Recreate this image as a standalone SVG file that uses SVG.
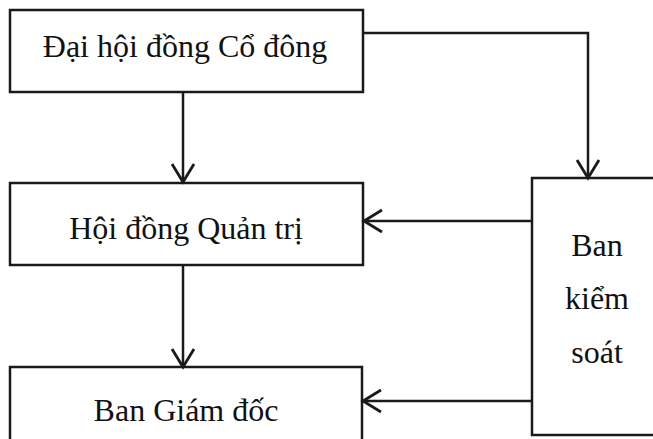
<svg xmlns="http://www.w3.org/2000/svg" width="653" height="439" viewBox="0 0 653 439">
<defs>
<style>
.box{fill:#fff;stroke:#1a1a1a;stroke-width:2.5}
.lbl{font-family:"Liberation Serif","Times New Roman",serif;font-size:32px;fill:#111;text-anchor:middle}
.con{fill:none;stroke:#1a1a1a;stroke-width:2.5}
</style>
<marker id="arr" markerUnits="userSpaceOnUse" markerWidth="26" markerHeight="28" refX="20" refY="13" orient="auto">
<path d="M2,2 L20,13 L2,24" fill="none" stroke="#1a1a1a" stroke-width="2.8"/>
</marker>
</defs>
<rect width="653" height="439" fill="#fff"/>
<g id="dhdcd">
<rect class="box" x="10" y="10" width="353" height="82"/>
<text class="lbl" x="185" y="57">Đại hội đồng Cổ đông</text>
</g>
<g id="hdqt">
<rect class="box" x="10" y="183" width="353" height="82"/>
<text class="lbl" x="186" y="239">Hội đồng Quản trị</text>
</g>
<g id="bgd">
<rect class="box" x="10" y="367" width="352" height="80"/>
<text class="lbl" x="186" y="421">Ban Giám đốc</text>
</g>
<g id="bks">
<rect class="box" x="532" y="178" width="130" height="257"/>
<text class="lbl" x="597" y="256">Ban</text>
<text class="lbl" x="597" y="309">kiểm</text>
<text class="lbl" x="597" y="363">soát</text>
</g>
<g id="connectors">
<path class="con" d="M183,92 V182" marker-end="url(#arr)"/>
<path class="con" d="M183,265 V367" marker-end="url(#arr)"/>
<path class="con" d="M363,33 H588 V178" marker-end="url(#arr)"/>
<path class="con" d="M532,221 H364" marker-end="url(#arr)"/>
<path class="con" d="M532,401 H363" marker-end="url(#arr)"/>
</g>
</svg>
